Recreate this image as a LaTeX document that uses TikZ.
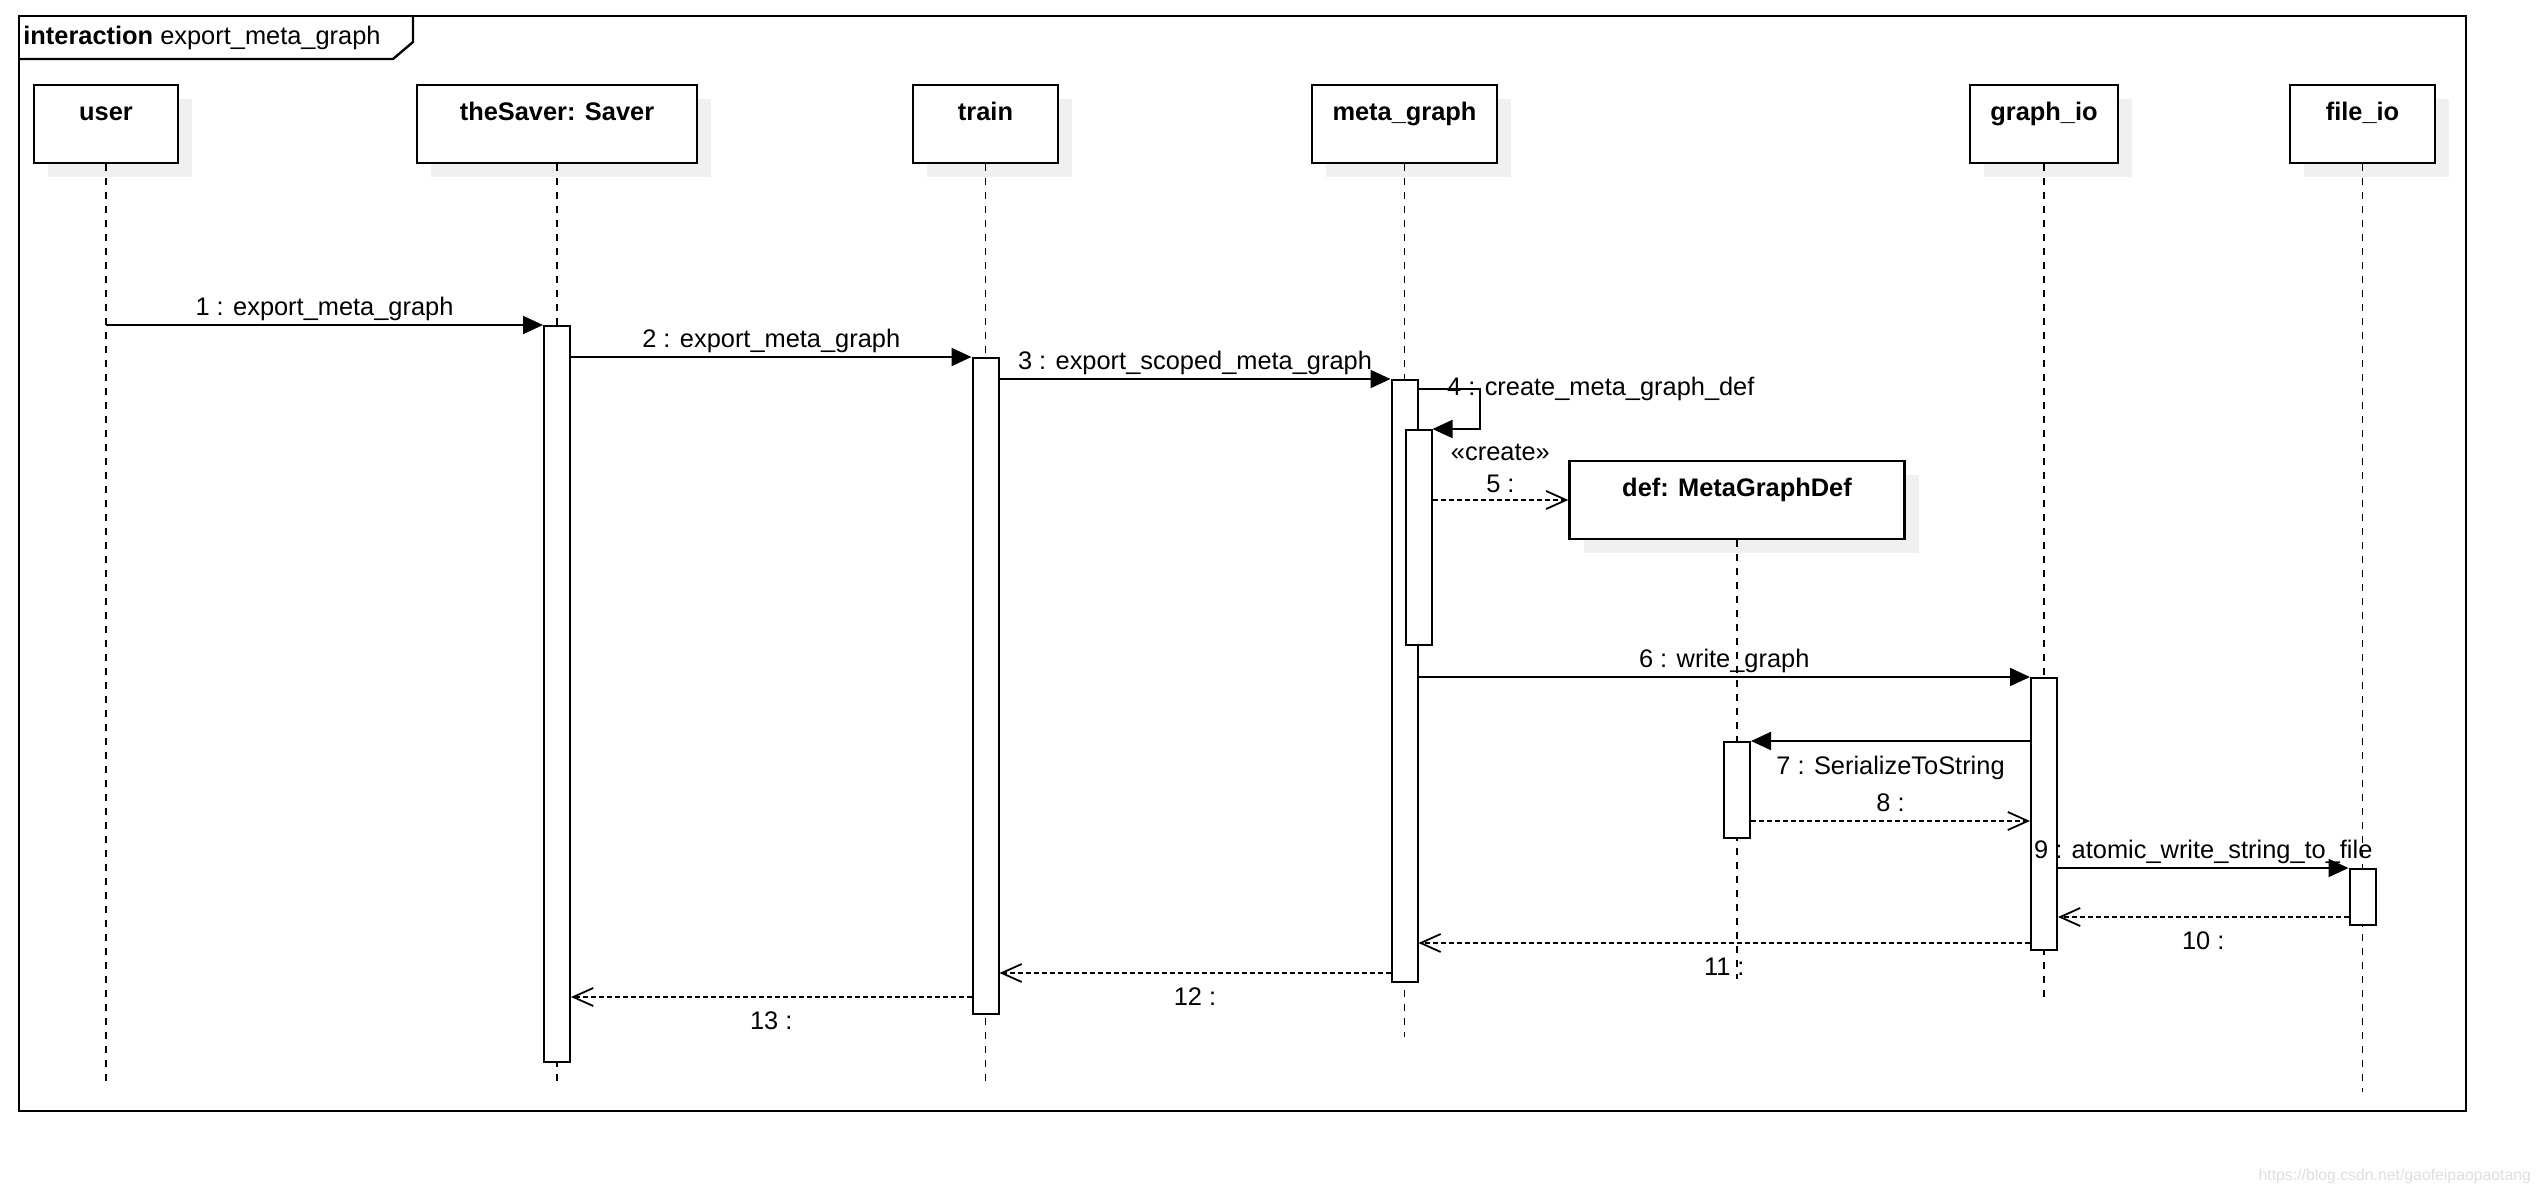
\documentclass[tikz,border=0pt]{standalone}
\usepackage{fontspec}
\setmainfont{Liberation Sans}
\usetikzlibrary{arrows.meta,shadows,positioning}

\begin{document}
\begin{tikzpicture}[x=0.5pt,y=-0.5pt,
    every node/.style={font=\fontsize{12.7}{15}\selectfont},
    head/.style={draw,line width=1.2pt,fill=white,font=\fontsize{12.7}{15}\selectfont\bfseries,
      minimum height=39pt,text height=14.5pt,text depth=18.5pt,inner ysep=3pt,inner xsep=0pt,
      drop shadow={shadow xshift=7pt,shadow yshift=-7pt,fill=black!6,opacity=1}},
    act/.style={draw,line width=1pt,fill=white,minimum width=13pt,inner sep=0pt,anchor=north},
    life/.style={line width=.75pt,dash pattern=on 3.5pt off 3.5pt},
    lbl/.style={text height=9.5pt,text depth=3pt,inner sep=1.5pt},
    call/.style={line width=1pt,-{Triangle[length=10pt,width=9pt]}},
    reply/.style={line width=.9pt,dash pattern=on 2.5pt off 1.5pt,-{Straight Barb[length=10pt,width=9pt,line width=.9pt]}}]
            \useasboundingbox (0,0) rectangle (2548,1194);

            \node[draw,line width=1.2pt,minimum width=1223.5pt,minimum height=547.5pt,anchor=north west,inner sep=0pt] (frame) at (18,15) {};
            \node[anchor=west,inner sep=0pt] (title) at (23,38) {\textbf{interaction} export\_meta\_graph};
            \draw[line width=1.2pt] (frame.north west |- 0,59) -- (393,59) -- (413,42) -- (413,15);

            \foreach \n/\x/\w/\t in {user/106/72/user,saver/557/140/theSaver: Saver,train/985.5/72.5/train,meta/1404.5/92.5/meta\_graph,gio/2044/74/graph\_io,fio/2362.5/72.5/file\_io} {
            \node[head,minimum width=\w pt] (\n) at (\x,124) {\t};}
            \node[head,minimum width=167.5pt] (def) at (1737,500) {def: MetaGraphDef};

            \foreach \n/\y in {user/1081,saver/1083,train/1083,meta/1037,def/979,gio/998,fio/1092} {
            \draw[life] (\n.south) -- (\n.south |- 0,\y);}

            \node[act,minimum height=368pt] (barSaver) at (saver.south |- 0,325) {};
            \node[act,minimum height=328pt] (barTrain) at (train.south |- 0,357) {};
            \node[act,minimum height=301pt] (barMeta) at (meta.south |- 0,379) {};
            \node[act,anchor=north west,minimum height=107.5pt] (barMetaIn) at (barMeta.north |- 0,429) {};
            \node[act,minimum height=48pt] (barDef) at (def.south |- 0,741) {};
            \node[act,minimum height=136pt] (barGio) at (gio.south |- 0,677) {};
            \node[act,minimum height=28pt] (barFio) at (fio.south |- 0,868) {};

            \draw[call] (user.south |- barSaver.north) -- node[lbl,above] {1 : export\_meta\_graph} (barSaver.north west);
            \draw[call] (barSaver.east |- barTrain.north) -- node[lbl,above] {2 : export\_meta\_graph} (barTrain.north west);
            \draw[call] (barTrain.east |- barMeta.north) -- node[lbl,above] {3 : export\_scoped\_meta\_graph} (barMeta.north west);
            \coordinate (self4) at (1480,389);
            \draw[call] (barMeta.east |- self4) -- node[lbl,pos=.4,anchor=west] {4 : create\_meta\_graph\_def} (self4) |- (barMetaIn.north east);
            \draw[reply] (barMetaIn.east |- def.west) -- node[lbl,above=-1pt] (l5) {5 :} (def.west);
            \node[lbl,above=-.5pt of l5] {«create»};
            \draw[call] (barMeta.east |- barGio.north) -- node[lbl,above] {6 : write\_graph} (barGio.north west);
            \draw[call] (barGio.west |- barDef.north) -- node[lbl,below=5pt] {7 : SerializeToString} (barDef.north east);
            \draw[reply] (barDef.east |- 0,821) -- node[lbl,above] {8 :} (barGio.west |- 0,821);
            \draw[call] (barGio.east |- barFio.north) -- node[lbl,above] {9 : atomic\_write\_string\_to\_file} (barFio.north west);
            \draw[reply] (barFio.west |- 0,917) -- node[lbl,below=5pt] {10 :} (barGio.east |- 0,917);
            \draw[reply] (barGio.west |- 0,943) -- node[lbl,below=5pt] {11 :} (barMeta.east |- 0,943);
            \draw[reply] (barMeta.west |- 0,973) -- node[lbl,below=5pt] {12 :} (barTrain.east |- 0,973);
            \draw[reply] (barTrain.west |- 0,997) -- node[lbl,below=5pt] {13 :} (barSaver.east |- 0,997);

            \node[anchor=east,text=black!13,font=\fontsize{7.9}{9}\selectfont] (mark) at (2538,1176) {https://blog.csdn.net/gaofeipaopaotang};
\end{tikzpicture}
\end{document}
